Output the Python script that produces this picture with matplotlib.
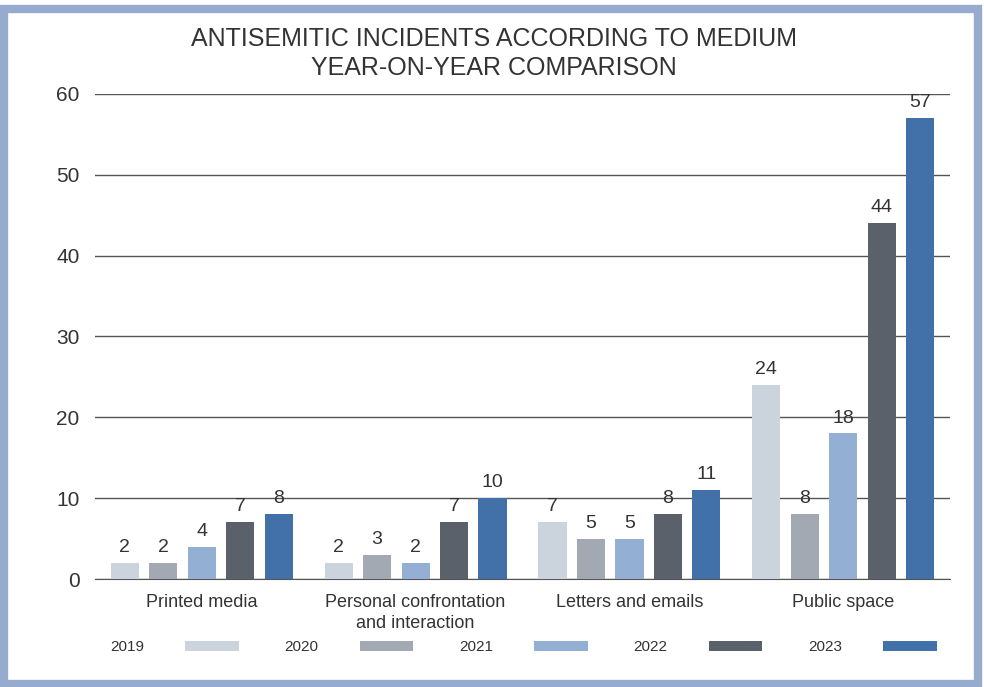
import matplotlib.pyplot as plt
import numpy as np
from matplotlib.patches import Rectangle

plt.rcParams['font.family'] = ['Liberation Sans', 'DejaVu Sans']

categories = ['Printed media', 'Personal confrontation\nand interaction',
              'Letters and emails', 'Public space']
years = ['2019', '2020', '2021', '2022', '2023']
values = {
    '2019': [2, 2, 7, 24],
    '2020': [2, 3, 5, 8],
    '2021': [4, 2, 5, 18],
    '2022': [7, 7, 8, 44],
    '2023': [8, 10, 11, 57],
}
colors = ['#cbd3dc', '#a3a9b2', '#93afd3', '#5a616b', '#4171a8']
yticks = [0, 10, 20, 30, 40, 50, 60]


def bar_plot():
    fig = plt.figure(figsize=(9.84, 6.87), dpi=100)
    # outer frame
    fig.patches.append(Rectangle((0.004, 0.005), 0.99, 0.982, transform=fig.transFigure,
                                 fill=False, edgecolor='#97abcf', linewidth=6))
    ax = fig.add_axes([0.0965, 0.1572, 0.869, 0.706])

    x = np.arange(len(categories))
    step = 0.18
    width = 0.132
    for i, yr in enumerate(years):
        bars = ax.bar(x + (i - 2) * step, values[yr], width, color=colors[i], label=yr, zorder=3)
        ax.bar_label(bars, padding=5, fontsize=14, color='#333333')

    ax.set_xlim(-0.5, 3.5)
    ax.set_ylim(0, 60)
    ax.set_yticks(yticks)
    ax.set_xticks(x)
    ax.set_xticklabels(categories, linespacing=1.25)
    ax.tick_params(axis='y', length=0, pad=11, labelsize=15, labelcolor='#333333')
    ax.tick_params(axis='x', length=0, pad=11, labelsize=13, labelcolor='#333333')
    ax.yaxis.grid(True, color='#555555', linewidth=1, zorder=0)
    for s in ['top', 'left', 'right']:
        ax.spines[s].set_visible(False)
    ax.spines['bottom'].set_color('#555555')

    fig.text(0.502, 0.922, 'ANTISEMITIC INCIDENTS ACCORDING TO MEDIUM\nYEAR-ON-YEAR COMPARISON',
             ha='center', va='center', fontsize=18, color='#333333', linespacing=1.3)

    handles, labels = ax.get_legend_handles_labels()
    fig.legend(handles, labels, loc='center', bbox_to_anchor=(0.532, 0.058), ncol=5,
               frameon=False, markerfirst=False, fontsize=11, labelcolor='#333333',
               handlelength=3.5, handleheight=0.65, handletextpad=2.7, columnspacing=3.0,
               borderpad=0)

    plt.savefig('out.png', dpi=100)


if __name__ == '__main__':
    bar_plot()
